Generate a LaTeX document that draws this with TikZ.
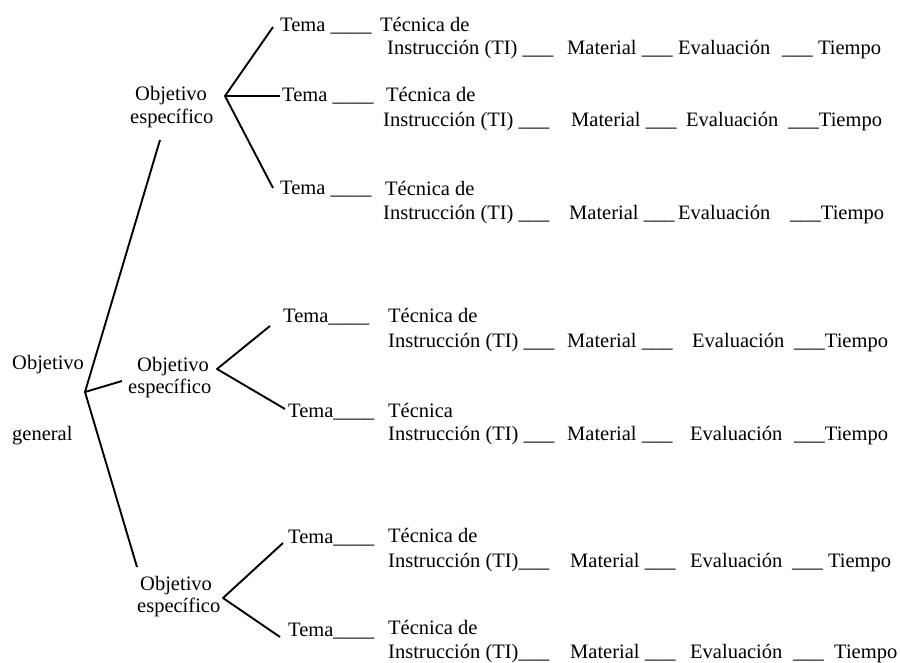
\documentclass[tikz,border=0pt]{standalone}
\usepackage{fontspec}
\setmainfont{Liberation Serif}
\begin{document}
\begin{tikzpicture}[x=1pt,y=-1pt,
  txt/.style={anchor=base west, inner sep=0pt, font=\fontsize{20.5}{24}\selectfont},
  ln/.style={line width=1.9pt, line join=round}]
\useasboundingbox (0,0) rectangle (900,663);
% root
\node[txt] (og1) at (12,369) {Objetivo};
\node[txt] (og2) at (12,440) {general};
% specific objectives
\node[txt] (oa1) at (135,101) {Objetivo};
\node[txt] (oa2) at (130,124) {específico};
\node[txt] (ob1) at (137,371) {Objetivo};
\node[txt] (ob2) at (128,393) {específico};
\node[txt] (oc1) at (140,590) {Objetivo};
\node[txt] (oc2) at (137,612) {específico};
% junctions and ends
\coordinate (r) at (85,392);
\coordinate (ra) at (160,140);
\coordinate (rb) at (122,381);
\coordinate (rc) at (137,567);
\coordinate (ja) at (225,96);
\coordinate (ja1) at (273,27);
\coordinate (ja2) at (280,96);
\coordinate (ja3) at (273,188);
\coordinate (jb) at (217,369);
\coordinate (jb1) at (270,326);
\coordinate (jb2) at (285,409);
\coordinate (jc) at (223,598);
\coordinate (jc1) at (283,543);
\coordinate (jc2) at (280,637);
\draw[ln] (ra) -- (r) -- (rc);
\draw[ln] (r) -- (rb);
\draw[ln] (ja1) -- (ja) -- (ja3);
\draw[ln] (ja) -- (ja2);
\draw[ln] (jb1) -- (jb) -- (jb2);
\draw[ln] (jc1) -- (jc) -- (jc2);
% row 1
\node[txt] (t1) at (280,32) {Tema \_\_\_\_};
\node[txt] (k1) at (380,32) {Técnica de};
\node[txt] (i1) at (387,55) {Instrucción (TI) \_\_\_};
\node[txt] (m1) at (567,55) {Material \_\_\_};
\node[txt] (e1) at (678,55) {Evaluación};
\node[txt] (p1) at (782,55) {\_\_\_ Tiempo};
% row 2
\node[txt] (t2) at (282,102) {Tema \_\_\_\_};
\node[txt] (k2) at (386,102) {Técnica de};
\node[txt] (i2) at (383,127) {Instrucción (TI) \_\_\_};
\node[txt] (m2) at (571,127) {Material \_\_\_};
\node[txt] (e2) at (686,127) {Evaluación};
\node[txt] (p2) at (788,127) {\_\_\_Tiempo};
% row 3
\node[txt] (t3) at (280,195) {Tema \_\_\_\_};
\node[txt] (k3) at (385,196) {Técnica de};
\node[txt] (i3) at (383,220) {Instrucción (TI) \_\_\_};
\node[txt] (m3) at (569,220) {Material \_\_\_};
\node[txt] (e3) at (678,220) {Evaluación};
\node[txt] (p3) at (790,220) {\_\_\_Tiempo};
% row 4
\node[txt] (t4) at (283,322) {Tema\_\_\_\_};
\node[txt] (k4) at (388,322) {Técnica de};
\node[txt] (i4) at (388,347) {Instrucción (TI) \_\_\_};
\node[txt] (m4) at (567,347) {Material \_\_\_};
\node[txt] (e4) at (692,347) {Evaluación};
\node[txt] (p4) at (794,347) {\_\_\_Tiempo};
% row 5
\node[txt] (t5) at (288,417) {Tema\_\_\_\_};
\node[txt] (k5) at (388,417) {Técnica};
\node[txt] (i5) at (388,440) {Instrucción (TI) \_\_\_};
\node[txt] (m5) at (567,440) {Material \_\_\_};
\node[txt] (e5) at (690,440) {Evaluación};
\node[txt] (p5) at (794,440) {\_\_\_Tiempo};
% row 6
\node[txt] (t6) at (288,543) {Tema\_\_\_\_};
\node[txt] (k6) at (388,542) {Técnica de};
\node[txt] (i6) at (388,567) {Instrucción (TI)\_\_\_};
\node[txt] (m6) at (570,567) {Material \_\_\_};
\node[txt] (e6) at (690,567) {Evaluación};
\node[txt] (p6) at (792,567) {\_\_\_ Tiempo};
% row 7
\node[txt] (t7) at (288,636) {Tema\_\_\_\_};
\node[txt] (k7) at (388,634) {Técnica de};
\node[txt] (i7) at (388,658) {Instrucción (TI)\_\_\_};
\node[txt] (m7) at (570,658) {Material \_\_\_};
\node[txt] (e7) at (690,658) {Evaluación};
\node[txt] (p7) at (793,658) {\_\_\_ \ Tiempo};
\end{tikzpicture}
\end{document}
